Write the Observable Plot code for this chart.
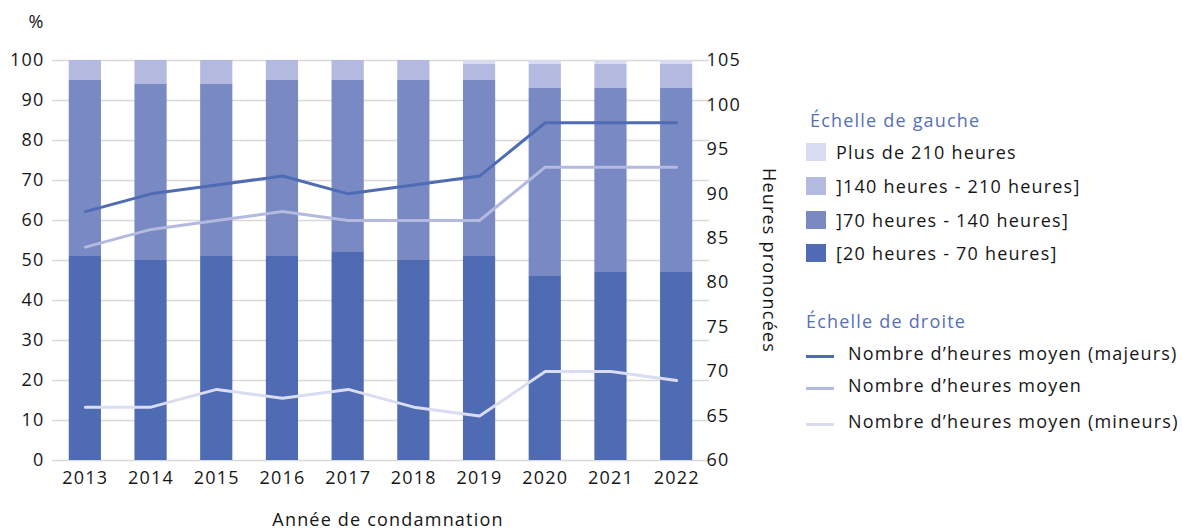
<!DOCTYPE html>
<html>
<head>
<meta charset="utf-8">
<script src="https://cdn.jsdelivr.net/npm/d3@7"></script>
<script src="https://cdn.jsdelivr.net/npm/@observablehq/plot@0.6"></script>
<style>
  body { margin: 0; background: #fff; font-family: "Open Sans", sans-serif; }
  #wrap { position: relative; width: 1182px; height: 530px; overflow: hidden; }
  #legend { position: absolute; left: 0; top: 0; width: 1182px; height: 530px; color: #161616; font-size: 18px; letter-spacing: 1.2px; }
  .lg { position: absolute; white-space: nowrap; line-height: 1; transform: translateY(-50%); }
  .lg-title { color: #5670b9; }
  .sw { position: absolute; }
  #chart svg text { letter-spacing: 1.2px; }
</style>
</head>
<body>
<div id="wrap"><div id="chart"></div><div id="legend"></div></div>
<script>
// ---- Data ----
const years = [2013, 2014, 2015, 2016, 2017, 2018, 2019, 2020, 2021, 2022];
const categories = ["[20 heures - 70 heures]", "]70 heures - 140 heures]", "]140 heures - 210 heures]", "Plus de 210 heures"];
const share20to70   = [51, 50, 51, 51, 52, 50, 51, 46, 47, 47];
const share70to140  = [44, 44, 43, 44, 43, 45, 44, 47, 46, 46];
const share140to210 = [5, 6, 6, 5, 5, 5, 4, 6, 6, 6];
const sharePlus210  = [0, 0, 0, 0, 0, 0, 1, 1, 1, 1];
const lineNames = ["Nombre d\u2019heures moyen (majeurs)", "Nombre d\u2019heures moyen", "Nombre d\u2019heures moyen (mineurs)"];
const hoursMajeurs = [88, 90, 91, 92, 90, 91, 92, 98, 98, 98];
const hoursMoyen   = [84, 86, 87, 88, 87, 87, 87, 93, 93, 93];
const hoursMineurs = [66, 66, 68, 67, 68, 66, 65, 70, 70, 69];
const leftTicks  = [0, 10, 20, 30, 40, 50, 60, 70, 80, 90, 100];
const rightTicks = [60, 65, 70, 75, 80, 85, 90, 95, 100, 105];

// ---- Styles ----
const barColors  = ["#4f6bb3", "#7889c3", "#b3b9df", "#d9dcf0"];
const lineColors = ["#4f6bb3", "#b3b9df", "#dadcf1"];

const shares = [share20to70, share70to140, share140to210, sharePlus210];
const barData = years.flatMap((y, i) => categories.map((c, j) => ({year: y, cat: c, value: shares[j][i]})));
const lineSeries = [hoursMajeurs, hoursMoyen, hoursMineurs];
const rMin = 60, rMax = 105;
const toLeft = v => (v - rMin) * 100 / (rMax - rMin);
const fromLeft = d => Math.round(rMin + d * (rMax - rMin) / 100);

const lineMarks = lineSeries.slice().reverse().map((vals, k) => {
  const idx = lineSeries.length - 1 - k;
  return Plot.line(years.map((y, i) => ({year: y, v: vals[i]})), {
    x: "year", y: d => toLeft(d.v), stroke: lineColors[idx], strokeWidth: 3, strokeLinejoin: "round"
  });
});

const chart = Plot.plot({
  width: 790, height: 530,
  marginLeft: 52, marginRight: 81, marginTop: 60, marginBottom: 70,
  style: {fontFamily: "'Open Sans', sans-serif", fontSize: "18px", color: "#161616", background: "white"},
  x: {type: "band", domain: years, paddingInner: 0.51, paddingOuter: 0.255, round: false, axis: null},
  y: {domain: [0, 100], axis: null},
  color: {domain: categories, range: barColors},
  marks: [
    Plot.gridY(leftTicks, {stroke: "#d9d9d9", strokeOpacity: 1, strokeWidth: 1.5}),
    Plot.barY(barData, {x: "year", y: "value", fill: "cat"}),
    ...lineMarks,
    Plot.axisY(leftTicks, {anchor: "left", tickSize: 0, tickPadding: 8, label: null, tickFormat: d => String(d)}),
    Plot.axisY(rightTicks.map(toLeft), {anchor: "right", tickSize: 0, tickPadding: 0, dx: -3, label: null, tickFormat: fromLeft}),
    Plot.axisX(years, {anchor: "bottom", tickSize: 0, tickPadding: 11, label: null, tickFormat: d => String(d)}),
    Plot.text(["%"], {frameAnchor: "top-left", dx: -16, dy: -38, textAnchor: "middle", lineAnchor: "middle", fontSize: 18}),
    Plot.text(["Ann\u00e9e de condamnation"], {frameAnchor: "bottom", dx: 7, dy: 60, textAnchor: "middle", lineAnchor: "middle", fontSize: 18}),
    Plot.text(["Heures prononc\u00e9es"], {frameAnchor: "right", dx: 59, rotate: 90, textAnchor: "middle", lineAnchor: "middle", fontSize: 18})
  ]
});
document.getElementById("chart").appendChild(chart);

// ---- Legend ----
const legend = d3.select("#legend");
legend.append("div").attr("class", "lg lg-title").style("left", "810px").style("top", "120px").text("\u00c9chelle de gauche");
const sqY = [152, 186, 220, 253];
categories.slice().reverse().forEach((c, k) => {
  const j = categories.length - 1 - k;
  legend.append("div").attr("class", "sw").style("left", "806px").style("top", (sqY[k] - 9) + "px")
    .style("width", "20px").style("height", "18px").style("background", barColors[j]);
  legend.append("div").attr("class", "lg").style("left", "836px").style("top", sqY[k] + "px").text(c);
});
legend.append("div").attr("class", "lg lg-title").style("left", "806px").style("top", "321px").text("\u00c9chelle de droite");
const lnY = [353, 385, 421];
lineNames.forEach((n, k) => {
  legend.append("div").attr("class", "sw").style("left", "806px").style("top", (lnY[k] + 2) + "px")
    .style("width", "28px").style("height", "3px").style("background", lineColors[k]);
  legend.append("div").attr("class", "lg").style("left", "848px").style("top", lnY[k] + "px").text(n);
});
</script>
</body>
</html>
